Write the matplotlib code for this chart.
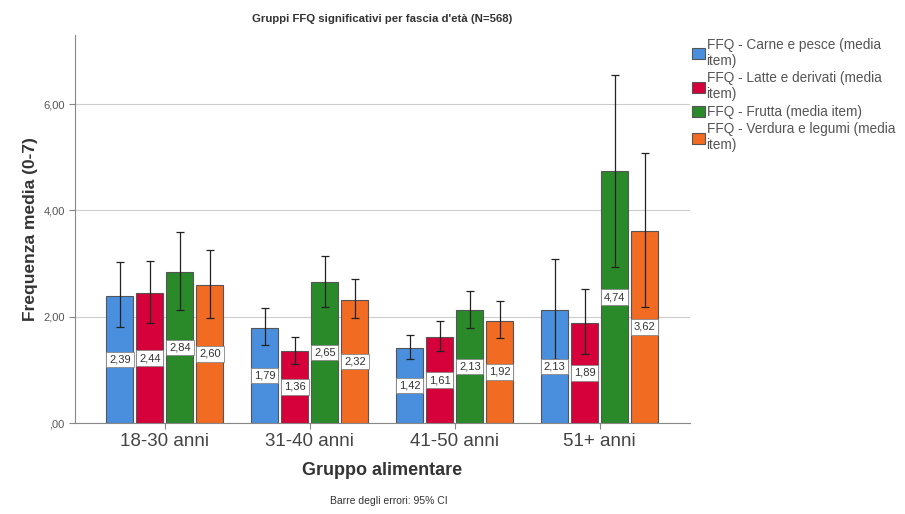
import numpy as np
import matplotlib.pyplot as plt

plt.rcParams['font.family'] = ['Liberation Sans', 'DejaVu Sans']

groups = ['18-30 anni', '31-40 anni', '41-50 anni', '51+ anni']
series = ['FFQ - Carne e pesce (media\nitem)', 'FFQ - Latte e derivati (media\nitem)',
          'FFQ - Frutta (media item)', 'FFQ - Verdura e legumi (media\nitem)']
colors = ['#4a8fde', '#d6003a', '#2a8a2a', '#f26b22']

means = [[2.39, 1.79, 1.42, 2.13],
         [2.44, 1.36, 1.61, 1.89],
         [2.84, 2.65, 2.13, 4.74],
         [2.60, 2.32, 1.92, 3.62]]
ci_low = [[1.81, 1.47, 1.21, 1.21],
          [1.89, 1.11, 1.36, 1.30],
          [2.13, 2.19, 1.79, 2.94],
          [1.98, 1.98, 1.60, 2.19]]
ci_high = [[3.02, 2.17, 1.66, 3.09],
           [3.04, 1.62, 1.92, 2.53],
           [3.60, 3.15, 2.49, 6.55],
           [3.26, 2.70, 2.30, 5.08]]


def fmt(v):
    s = '%.2f' % v
    if s.startswith('0'):
        s = s[1:]
    return s.replace('.', ',')


fig = plt.figure(figsize=(9.05, 5.14), dpi=100)
ax = fig.add_axes([0.083, 0.177, 0.679, 0.755])

x = np.arange(len(groups))
step = 0.207
width = 0.186
for i in range(len(series)):
    xs = x + (i - 1.5) * step
    m = np.array(means[i])
    lo = m - np.array(ci_low[i])
    hi = np.array(ci_high[i]) - m
    ax.bar(xs, m, width, color=colors[i], edgecolor='#555555', linewidth=0.8,
           label=series[i], zorder=2)
    ax.errorbar(xs, m, yerr=[lo, hi], fmt='none', ecolor='#222222',
                elinewidth=0.9, capsize=3, capthick=0.9, zorder=3)
    for xi, v in zip(xs, m):
        ax.text(xi, v / 2, fmt(v), ha='center', va='center', fontsize=8,
                color='#333333', zorder=4,
                bbox=dict(boxstyle='square,pad=0.25', fc='white', ec='#888888', lw=0.6))

ax.set_xlim(-0.62, 3.62)
ax.set_ylim(0, 7.3)
ax.set_yticks([0, 2, 4, 6])
ax.set_yticklabels([fmt(v) for v in [0, 2, 4, 6]], fontsize=8, color='#555555')
ax.set_xticks(x)
ax.set_xticklabels(groups, fontsize=13.5, color='#444444')
ax.yaxis.grid(True, color='#cccccc', linewidth=0.8, zorder=0)
ax.set_axisbelow(True)
for s in ['top', 'right']:
    ax.spines[s].set_visible(False)
for s in ['left', 'bottom']:
    ax.spines[s].set_color('#888888')
ax.tick_params(axis='both', color='#888888', length=4)

ax.set_ylabel('Frequenza media (0-7)', fontsize=12.5, fontweight='bold', color='#333333')
ax.set_xlabel('Gruppo alimentare', fontsize=13, fontweight='bold', color='#333333', labelpad=8)
ax.set_title("Gruppi FFQ significativi per fascia d'età (N=568)", fontsize=8.2,
             fontweight='bold', color='#333333', pad=9)

ax.legend(loc='upper left', bbox_to_anchor=(1.0, 1.0), frameon=False, fontsize=9.8,
          handlelength=0.9, handleheight=0.9, handletextpad=0.15, labelspacing=0.25,
          borderaxespad=0.0, borderpad=0.2, labelcolor='#555555')

fig.text(0.43, 0.02, 'Barre degli errori: 95% CI', ha='center', fontsize=7.5, color='#333333')

fig.savefig('out.png', dpi=100)
